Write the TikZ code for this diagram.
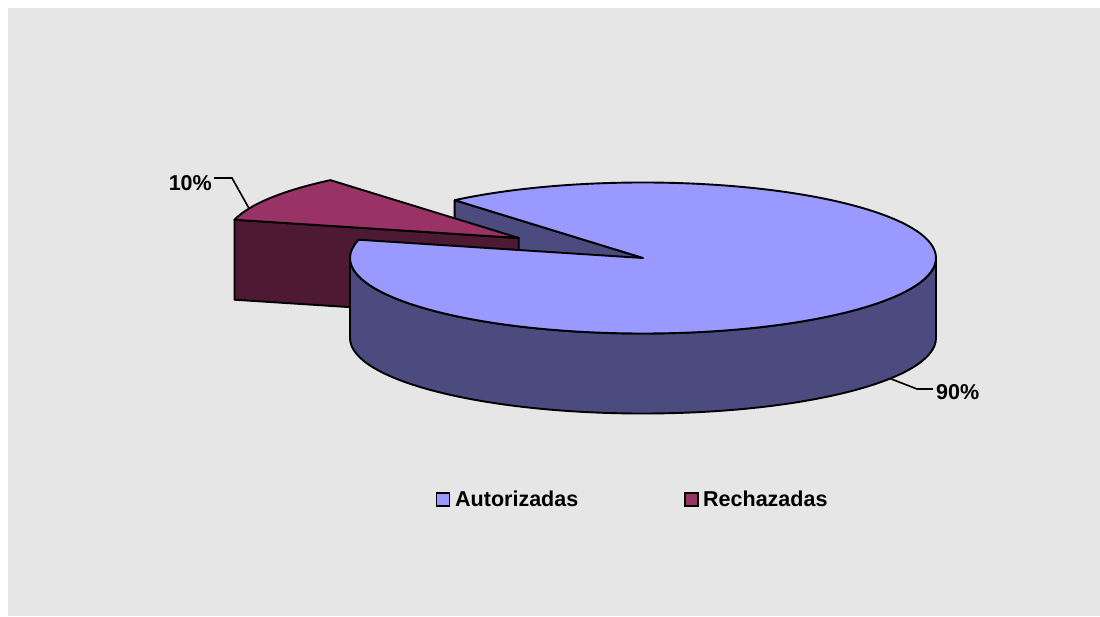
\documentclass[tikz,border=0pt]{standalone}
\usepackage{fontspec}
\setmainfont{Liberation Sans}
\usetikzlibrary{calc}
\definecolor{bgray}{RGB}{230,230,230}
\definecolor{ltop}{RGB}{153,153,255}
\definecolor{lside}{RGB}{75,75,127}
\definecolor{ptop}{RGB}{153,51,102}
\definecolor{pside}{RGB}{77,25,51}
\begin{document}
\begin{tikzpicture}[x=1pt,y=1pt,
  face/.style={draw=black,line width=1.9pt,line join=round},
  lbl/.style={font=\fontsize{21.5}{25}\selectfont\bfseries,inner sep=0pt},
  leader/.style={draw=black,line width=1.6pt},
  swatch/.style={draw=black,line width=1.6pt,minimum size=13pt,inner sep=0pt}]
\useasboundingbox (0,0) rectangle (1100,616);
\fill[white] (0,0) rectangle (1100,616);
\fill[bgray] (8,0) rectangle (1100,608);
% geometry of the big slice
\coordinate (C) at (643,358);
\coordinate (Cb) at (643,278);
\coordinate (P130) at ($(C)+(130:293 and 75.5)$);
\coordinate (P130b) at ($(P130)+(0,-80)$);
\coordinate (P166) at ($(C)+(166:293 and 75.5)$);
\coordinate (P180) at ($(C)+(180:293 and 75.5)$);
% exploded slice
\coordinate (A) at ($(C)+(148:146.5 and 37.75)$);
\coordinate (Ab) at ($(A)+(0,-80)$);
\coordinate (Q166) at ($(A)+(166:293 and 75.5)$);
\coordinate (Q166b) at ($(Q166)+(0,-80)$);
% big slice cut wall
\path[face,fill=lside] (C) -- (P130) -- (P130b) -- (Cb) -- cycle;
% small slice
\path[face,fill=pside] (A) -- (Q166) -- (Q166b) -- (Ab) -- cycle;
\path[face,fill=ptop] (A) -- (Q166) arc[start angle=166,end angle=130,x radius=293,y radius=75.5] -- cycle;
% big slice side and top
\path[face,fill=lside] (P180) arc[start angle=180,end angle=360,x radius=293,y radius=75.5]
   -- ++(0,-80) arc[start angle=0,end angle=-180,x radius=293,y radius=75.5] -- cycle;
\path[face,fill=ltop] (C) -- (P130) arc[start angle=130,end angle=-194,x radius=293,y radius=75.5] -- cycle;
% labels
\node[lbl,anchor=east] (l10) at (212,433) {10\%};
\coordinate (k10a) at (232,438);
\coordinate (k10b) at ($(A)+(157:293 and 75.5)$);
\draw[leader] (l10.east |- k10a) ++(2,0) coordinate (k10s) -- (k10a) -- (k10b);
\node[lbl,anchor=west] (l90) at (936,224) {90\%};
\coordinate (k90b) at ($(Cb)+(-32.5:293 and 75.5)$);
\coordinate (k90a) at (917,227);
\draw[leader] (l90.west |- k90a) ++(-3,0) -- (k90a) -- (k90b);
% legend
\node[swatch,fill=ltop] (s1) at (443,116.5) {};
\node[lbl,anchor=base west] (t1) at (455,110) {Autorizadas};
\node[swatch,fill=ptop] (s2) at (691.5,116.5) {};
\node[lbl,anchor=base west] (t2) at (703,110) {Rechazadas};
\end{tikzpicture}
\end{document}
